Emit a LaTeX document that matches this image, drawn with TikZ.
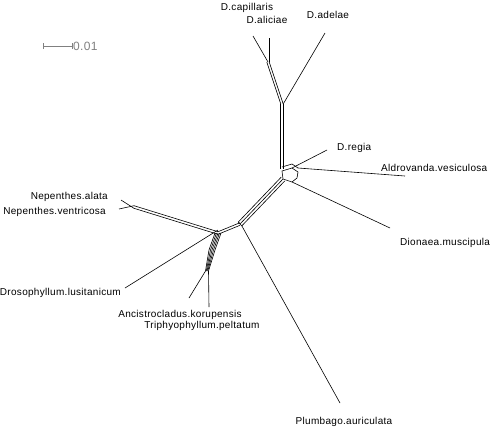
\documentclass[tikz,border=0pt]{standalone}
\usepackage{fontspec}
\setmainfont[LetterSpace=3]{Liberation Sans}
\begin{document}
\begin{tikzpicture}[x=1pt,y=-1pt,
    font=\fontsize{10}{12}\selectfont,
    edge/.style={line width=0.6pt},
    taxon/.style={inner sep=0pt},
    scalebar/.style={gray, line width=0.6pt}]
  \useasboundingbox (0,0) rectangle (494,432);
  % scale bar
  \coordinate (s1) at (43,46);
  \coordinate (s2) at (72,46);
  \draw[scalebar] (s1) -- (s2);
  \draw[scalebar] ([yshift=-3]s1) -- ([yshift=3]s1);
  \draw[scalebar] ([yshift=-3]s2) -- ([yshift=3]s2);
  \node[taxon, gray, anchor=west, font=\fontsize{12}{14}\selectfont] (sl) at (73,46) {0.01};

  % taxa
  \node[taxon] (cap) at (247,8) {D.capillaris};
  \node[taxon] (ali) at (267,20) {D.aliciae};
  \node[taxon] (ade) at (328,15) {D.adelae};
  \node[taxon, anchor=west] (reg) at (337,148) {D.regia};
  \node[taxon, anchor=west] (ald) at (381,168) {Aldrovanda.vesiculosa};
  \node[taxon, anchor=west] (dio) at (400,243) {Dionaea.muscipula};
  \node[taxon] (plu) at (344,422) {Plumbago.auriculata};
  \node[taxon, anchor=east] (nal) at (108,197) {Nepenthes.alata};
  \node[taxon, anchor=east] (nve) at (106,212) {Nepenthes.ventricosa};
  \node[taxon, anchor=east] (dro) at (121,293) {Drosophyllum.lusitanicum};
  \node[taxon] (anc) at (180,315) {Ancistrocladus.korupensis};
  \node[taxon] (tri) at (202,326) {Triphyophyllum.peltatum};

  % leaf ends
  \coordinate (capE) at (253,36);
  \coordinate (aliE) at (269,38);
  \coordinate (adeE) at (325,33);
  \coordinate (regE) at (327,150);
  \coordinate (aldE) at (405,176);
  \coordinate (dioE) at (390,228);
  \coordinate (pluE) at (340,403);
  \coordinate (nalE) at (121,200);
  \coordinate (nveE) at (119,209);
  \coordinate (droE) at (125,288);
  \coordinate (ancE) at (189,298);
  \coordinate (triE) at (209,307);

  % inner vertices
  \coordinate (top) at (268,62);
  \coordinate (mid) at (282,104);
  \coordinate (hub) at (282,169);
  \coordinate (hA) at (282,171);
  \coordinate (hB) at (292,168);
  \coordinate (hC) at (298,172);
  \coordinate (hD) at (297,178);
  \coordinate (hE) at (292,182);
  \coordinate (hF) at (283,179);
  \coordinate (cen) at (240,224);
  \coordinate (cl) at (218,233);
  \coordinate (nep) at (134,207);
  \coordinate (ab) at (212,250);
  \coordinate (at) at (207,271);

  % drosera clade
  \draw[edge] (capE) -- (top);
  \draw[edge] (aliE) -- ([xshift=1]top);
  \foreach \o in {-1.2,1.2}
    \draw[edge] ([xshift=\o]top) -- ([xshift=\o]mid);
  \draw[edge] (adeE) -- ([xshift=1.2]mid);
  \foreach \o in {-1.4,1.4}
    \draw[edge] ([xshift=\o]mid) -- ([xshift=\o]hub);

  % hub box
  \draw[edge] (hA) -- (hB) -- (hC) -- (hD) -- (hE) -- (hF) -- cycle;
  \draw[edge] ([yshift=4]hA) -- ([yshift=4]hB) -- ([yshift=4]hC);
  \draw[edge] (regE) -- (hB);
  \draw[edge] (aldE) -- ([yshift=4]hC);
  \draw[edge] (dioE) -- (hE);

  % central split
  \foreach \o in {-2.6,0,2.6}
    \draw[edge] ([shift={(0.7*\o,0.71*\o)}]hF) -- ([shift={(0.7*\o,0.71*\o)}]cen);
  \draw[edge] ([shift={(-1.8,-1.8)}]cen) -- ([shift={(1.8,1.8)}]cen);
  \draw[edge] (pluE) -- ([shift={(1.8,1.8)}]cen);

  % left cluster
  \foreach \o in {-1.3,1.3}
    \draw[edge] ([yshift=\o]cen) -- ([yshift=\o]cl);
  \foreach \o in {-1.3,1.3}
    \draw[edge] ([yshift=\o]cl) -- ([yshift=\o]nep);
  \draw[edge] (nalE) -- ([yshift=-1.3]nep);
  \draw[edge] (nveE) -- ([yshift=1.3]nep);
  \draw[edge] (droE) -- ([yshift=3]cl);
  \foreach \o in {-3,-1.5,0,1.5,3}
    \draw[edge] ([xshift=\o]cl) -- ([xshift=\o]ab) -- ([xshift=0.5*\o]at);
  \draw[edge] (ancE) -- ([xshift=-1.5]at);
  \draw[edge] (triE) -- ([xshift=1.5]at);
\end{tikzpicture}
\end{document}
